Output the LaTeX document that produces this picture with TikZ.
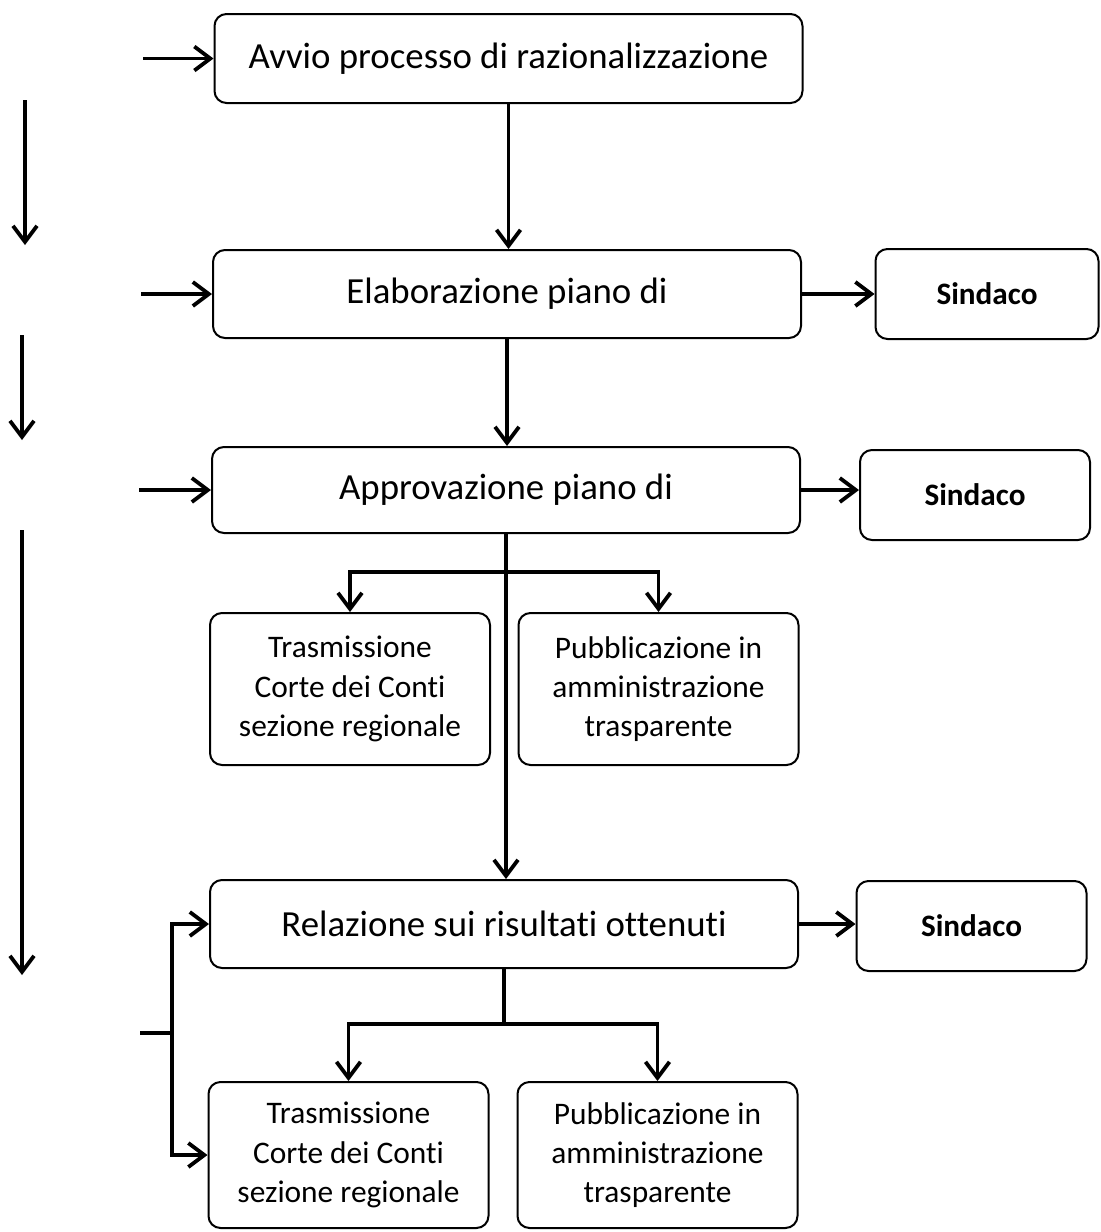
\documentclass[tikz,border=0pt]{standalone}
\usepackage{fontspec}
\setmainfont{Carlito}[Ligatures=NoCommon]
\usetikzlibrary{arrows.meta}

\begin{document}
\begin{tikzpicture}[x=0.5pt,y=0.5pt,yscale=-1,xscale=1,
    stepbox/.style={draw, rounded corners=6pt, line width=1pt, align=center, inner sep=0pt, font=\fontsize{18.4}{22}\selectfont},
    wide/.style={stepbox, minimum width=294pt, minimum height=44pt},
    sidebox/.style={stepbox, minimum width=115pt, minimum height=45pt, font=\fontsize{15.6}{18}\selectfont\bfseries},
    subbox/.style={stepbox, minimum width=140pt, font=\fontsize{15.7}{19.6}\selectfont},
    flow/.style={line width=1.9pt, -{Straight Barb[length=8pt,width=12pt,line width=1.9pt]}},
    plain/.style={line width=1.9pt}]
    \useasboundingbox (0,0) rectangle (1100,1232);

    \node (avvio) [wide, minimum height=44.5pt] at (508.5,58.5) {Avvio processo di razionalizzazione};
    \node (elab) [wide] at (507,294) {\raisebox{3pt}{Elaborazione piano di}};
    \node (sind1) [sidebox, minimum width=111.5pt] at (987,294) {Sindaco};
    \node (appr) [wide, minimum height=43pt] at (506,490) {\raisebox{3pt}{Approvazione piano di}};
    \node (sind2) [sidebox] at (975,495) {Sindaco};
    \node (tras1) [subbox, minimum height=76pt] at (350,689) {Trasmissione\\Corte dei Conti\\sezione regionale};
    \node (pubb1) [subbox, minimum height=76pt] at (658.5,689) {Pubblicazione in\\amministrazione\\trasparente};
    \node (rel) [wide] at (504,924) {Relazione sui risultati ottenuti};
    \node (sind3) [sidebox] at (971.5,926) {Sindaco};
    \node (tras2) [subbox, minimum height=73pt] at (348.5,1155) {Trasmissione\\Corte dei Conti\\sezione regionale};
    \node (pubb2) [subbox, minimum height=73pt] at (657.5,1155) {Pubblicazione in\\amministrazione\\trasparente};

    \coordinate (in1) at (143,58.5);
    \coordinate (in2) at (141,294);
    \coordinate (in3) at (139,490);
    \coordinate (in4) at (140,1033);
    \coordinate (fork) at (172,1033);
    \coordinate (br1) at (506,572);
    \coordinate (br2) at (504,1024);
    \coordinate (s1) at (25,100);
    \coordinate (e1) at (25,245);
    \coordinate (s2) at (22,335);
    \coordinate (e2) at (22,440);
    \coordinate (s3) at (22,530);
    \coordinate (e3) at (22,975);

    \draw [flow] (in1) -- (avvio.west);
    \draw [flow] (in2) -- (elab.west);
    \draw [flow] (in3) -- (appr.west);
    \draw [flow] (avvio.south) -- (avvio.south |- elab.north);
    \draw [flow] (elab.south) -- (elab.south |- appr.north);
    \draw [flow] (elab.east) -- (sind1.west);
    \draw [flow] (appr.east) -- (appr.east -| sind2.west);
    \draw [flow] (appr.south) -- (appr.south |- rel.north);
    \draw [flow] (br1) -| (tras1.north);
    \draw [flow] (br1) -| (pubb1.north);
    \draw [flow] (rel.east) -- (rel.east -| sind3.west);
    \draw [plain] (rel.south) -- (br2);
    \draw [flow] (br2) -| (tras2.north);
    \draw [flow] (br2) -| (pubb2.north);
    \draw [plain] (in4) -- (fork);
    \draw [flow] (fork) |- (rel.west);
    \draw [flow] (fork) |- (tras2.west);
    \draw [flow] (s1) -- (e1);
    \draw [flow] (s2) -- (e2);
    \draw [flow] (s3) -- (e3);
\end{tikzpicture}
\end{document}
